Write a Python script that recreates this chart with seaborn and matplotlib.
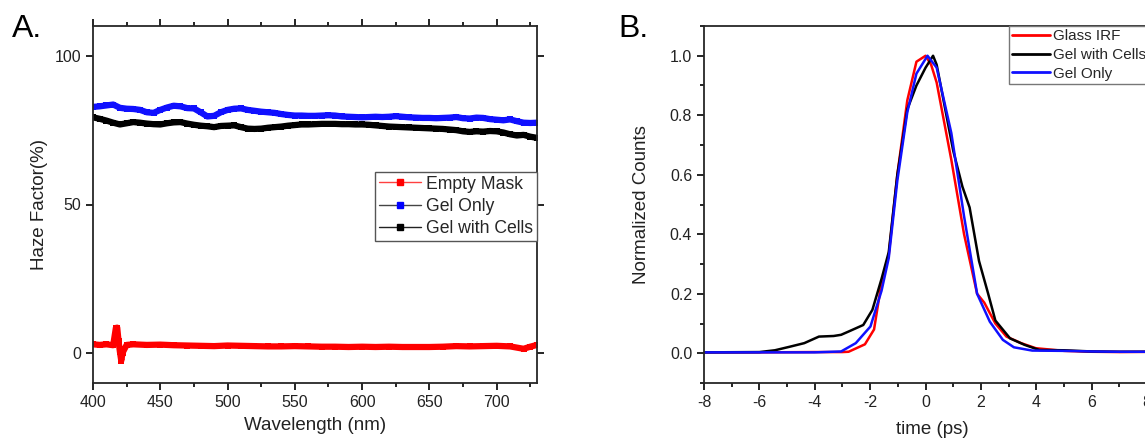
import numpy as np
import pandas as pd
import seaborn as sns
import matplotlib.pyplot as plt
from matplotlib.lines import Line2D
from matplotlib.ticker import MultipleLocator

# ---- Panel A data: haze factor vs wavelength ----
wl = np.arange(400, 731, 5)
gel_only = [82.8, 83.0, 83.3, 83.6, 82.5, 82.2, 82.1, 81.8, 81.0, 80.8,
            81.8, 82.6, 83.2, 83.0, 82.4, 82.3, 81.0, 79.6, 79.8, 81.0,
            81.8, 82.2, 82.3, 81.8, 81.5, 81.2, 81.0, 80.8, 80.4, 80.1,
            79.9, 79.9, 79.8, 79.8, 79.9, 80.0, 79.9, 79.6, 79.5, 79.4,
            79.3, 79.4, 79.5, 79.4, 79.5, 79.7, 79.5, 79.3, 79.2, 79.1,
            79.1, 79.0, 79.1, 79.2, 79.4, 79.0, 78.9, 79.2, 79.1, 78.7,
            78.5, 78.3, 78.6, 78.0, 77.5, 77.4, 77.5]
gel_cells = [79.3, 78.8, 78.2, 77.5, 76.9, 77.3, 77.7, 77.5, 77.2, 77.0,
             76.9, 77.3, 77.6, 77.7, 77.2, 76.8, 76.5, 76.3, 76.0, 76.4,
             76.5, 76.6, 76.0, 75.5, 75.4, 75.5, 75.8, 76.0, 76.2, 76.5,
             76.7, 76.9, 76.9, 77.0, 77.1, 77.1, 77.1, 77.0, 77.0, 76.9,
             76.9, 76.8, 76.6, 76.4, 76.2, 76.1, 76.0, 75.9, 75.8, 75.7,
             75.6, 75.5, 75.4, 75.2, 75.0, 74.6, 74.4, 74.6, 74.5, 74.7,
             74.6, 74.2, 73.6, 73.2, 73.4, 72.8, 72.4]
mask_wl = [400, 405, 410, 415, 417, 418, 419, 420, 421, 422, 425, 430, 440,
           450, 460, 470, 480, 490, 500, 510, 520, 530, 540, 550, 560, 570,
           580, 590, 600, 610, 620, 630, 640, 650, 660, 670, 680, 690, 700,
           710, 720, 725, 730]
empty_mask = [3.0, 2.8, 3.0, 2.7, 8.5, 8.6, 4.0, 0.5, -2.5, 0.2, 2.8, 3.0, 2.8,
              2.9, 2.7, 2.6, 2.5, 2.4, 2.6, 2.5, 2.4, 2.3, 2.3, 2.4, 2.3, 2.2,
              2.2, 2.1, 2.2, 2.1, 2.2, 2.1, 2.1, 2.1, 2.2, 2.4, 2.3, 2.4, 2.5,
              2.3, 1.5, 2.2, 2.8]

# ---- Panel B data: normalized counts vs time ----
t_irf = [-8, -6, -4, -3.0, -2.78, -2.19, -1.86, -1.62, -1.33, -1.02, -0.66,
         -0.33, 0.0, 0.2, 0.40, 0.93, 1.39, 1.86, 2.12, 2.52, 2.92, 3.45,
         3.98, 5.0, 6.0, 7.0, 8.5]
glass_irf = [0.003, 0.003, 0.004, 0.004, 0.005, 0.03, 0.08, 0.22, 0.33, 0.60,
             0.85, 0.98, 1.0, 0.97, 0.91, 0.65, 0.40, 0.20, 0.17, 0.10, 0.056,
             0.034, 0.017, 0.008, 0.005, 0.004, 0.005]
t_cells = [-8, -6, -5.44, -4.9, -4.38, -3.85, -3.32, -3.05, -2.78, -2.25,
           -1.92, -1.59, -1.33, -1.02, -0.66, -0.33, 0.0, 0.27, 0.40, 1.0,
           1.33, 1.59, 1.93, 2.26, 2.52, 3.05, 3.58, 4.11, 5.0, 6.0, 7.0, 8.5]
cells = [0.003, 0.004, 0.01, 0.022, 0.034, 0.056, 0.058, 0.062, 0.073, 0.095,
         0.146, 0.25, 0.34, 0.60, 0.82, 0.90, 0.96, 1.0, 0.97, 0.68,
         0.56, 0.49, 0.31, 0.20, 0.11, 0.05, 0.028, 0.011, 0.01, 0.006, 0.005, 0.005]
t_gel = [-8, -6, -4, -3.05, -2.52, -1.99, -1.59, -1.33, -1.02, -0.66, -0.33,
         0.07, 0.40, 0.93, 1.39, 1.86, 2.32, 2.79, 3.19, 3.85, 5.0, 6.0, 7.0, 8.5]
gel = [0.003, 0.003, 0.003, 0.006, 0.034, 0.09, 0.21, 0.32, 0.58, 0.81, 0.94,
       1.0, 0.96, 0.74, 0.46, 0.20, 0.106, 0.045, 0.02, 0.009, 0.008, 0.006,
       0.005, 0.005]

sns.set_style("ticks")
plt.rcParams['font.family'] = ['Liberation Sans', 'DejaVu Sans']
plt.rcParams['axes.unicode_minus'] = False

W, H = 1145, 438
fig = plt.figure(figsize=(W / 100, H / 100), dpi=100)
axA = fig.add_axes([93 / W, (H - 383) / H, (537 - 93) / W, (383 - 26) / H])
axB = fig.add_axes([704 / W, (H - 383) / H, (1161 - 704) / W, (383 - 26) / H])

txt = '#222222'
tick_fs = 11.5
label_fs = 13.5

# ---- Panel A ----
band = dict(lw=4.5, marker='s', markersize=5, markeredgewidth=0, legend=False)
sns.lineplot(x=wl, y=gel_only, ax=axA, color='#1010ff', **band)
sns.lineplot(x=wl, y=gel_cells, ax=axA, color='black', **band)
sns.lineplot(x=mask_wl, y=empty_mask, ax=axA, color='#ff0000', **band)

axA.set_xlim(400, 730)
axA.set_ylim(-10, 110)
axA.set_xticks([400, 450, 500, 550, 600, 650, 700])
axA.set_yticks([0, 50, 100])
axA.xaxis.set_minor_locator(MultipleLocator(25))
axA.tick_params(which='both', direction='out', top=True, right=True,
                labeltop=False, labelright=False, width=1.2, colors='black',
                labelcolor=txt, labelsize=tick_fs)
axA.tick_params(which='major', length=5)
axA.tick_params(which='minor', length=3)
axA.set_xlabel("Wavelength (nm)", fontsize=label_fs, color=txt, labelpad=5)
axA.set_ylabel("Haze Factor(%)", fontsize=label_fs, color=txt, labelpad=5)
for s in axA.spines.values():
    s.set_linewidth(1.3)

handlesA = [
    Line2D([], [], color='#ff4040', lw=1, marker='s', markersize=5,
           markerfacecolor='red', markeredgecolor='red'),
    Line2D([], [], color='#444444', lw=1, marker='s', markersize=5,
           markerfacecolor='blue', markeredgecolor='blue'),
    Line2D([], [], color='#222222', lw=1, marker='s', markersize=5,
           markerfacecolor='black', markeredgecolor='black'),
]
legA = axA.legend(handlesA, ["Empty Mask", "Gel Only", "Gel with Cells"],
                  loc='upper right', bbox_to_anchor=(1.0, 0.591),
                  borderaxespad=0, fontsize=12.7, frameon=True, fancybox=False,
                  edgecolor='#555555', framealpha=1, handlelength=2.4,
                  handletextpad=0.3, labelspacing=0.3, borderpad=0.2)
legA.get_frame().set_linewidth(1)

# ---- Panel B ----
curve = dict(lw=1.8, legend=False)
sns.lineplot(x=t_irf, y=glass_irf, ax=axB, color='#ff0000', **curve)
sns.lineplot(x=t_cells, y=cells, ax=axB, color='black', **curve)
sns.lineplot(x=t_gel, y=gel, ax=axB, color='#1010ff', **curve)

axB.set_xlim(-8, 8.5)
axB.set_ylim(-0.1, 1.1)
axB.set_xticks([-8, -6, -4, -2, 0, 2, 4, 6, 8])
axB.set_yticks([0.0, 0.2, 0.4, 0.6, 0.8, 1.0])
axB.set_yticklabels(["0.0", "0.2", "0.4", "0.6", "0.8", "1.0"])
axB.xaxis.set_minor_locator(MultipleLocator(1))
axB.yaxis.set_minor_locator(MultipleLocator(0.1))
axB.tick_params(which='both', direction='out', width=1.2, colors='black',
                labelcolor=txt, labelsize=tick_fs)
axB.tick_params(which='major', length=5)
axB.tick_params(which='minor', length=3)
axB.set_xlabel("time (ps)", fontsize=label_fs, color=txt, labelpad=8)
axB.set_ylabel("Normalized Counts", fontsize=label_fs, color=txt, labelpad=14)
for s in axB.spines.values():
    s.set_linewidth(1.3)

handlesB = [Line2D([], [], color=c, lw=2) for c in ['#ff0000', 'black', '#1010ff']]
legB = axB.legend(handlesB, ["Glass IRF", "Gel with Cells", "Gel Only"],
                  loc='upper left', bbox_to_anchor=((1009 - 704) / 457, 1.0),
                  borderaxespad=0, fontsize=11, frameon=True, fancybox=False,
                  edgecolor='#777777', framealpha=1, handlelength=2.5,
                  handletextpad=0.2, labelspacing=0.32, borderpad=0.2)
legB.get_frame().set_linewidth(1)

fig.text(12 / W, 1 - 37 / H, "A.", fontsize=23, color='black', va='baseline')
fig.text(618 / W, 1 - 37 / H, "B.", fontsize=23, color='black', va='baseline')

fig.savefig("out.png", dpi=100)
